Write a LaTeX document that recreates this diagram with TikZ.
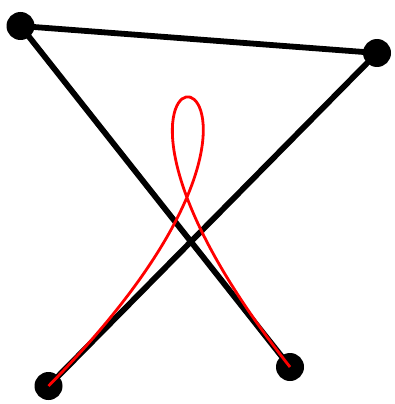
\documentclass[tikz,border=0pt]{standalone}
\usetikzlibrary{calc}
\begin{document}
\begin{tikzpicture}[x=1pt,y=-1pt,
  dot/.style={circle,fill=black,inner sep=0pt,minimum size=28pt},
  poly/.style={line width=5.8pt},
  curve/.style={red,line width=2.8pt}]
\useasboundingbox (0,0) rectangle (394,404);
\coordinate (a) at (20.5,26);
\coordinate (b) at (377,53);
\coordinate (c) at (48.5,386);
\coordinate (d) at (290,367);
\coordinate (p) at ($(c)!1.09!(b)$);
\coordinate (q) at ($(d)!1.12!(a)$);
\draw[poly] (c) -- (b) -- (a) -- (d);
\node[dot] (na) at (a) {};
\node[dot] (nb) at (b) {};
\node[dot] (nc) at (c) {};
\node[dot] (nd) at (d) {};
\draw[curve] (c) .. controls (p) and (q) .. (d);
\end{tikzpicture}
\end{document}
